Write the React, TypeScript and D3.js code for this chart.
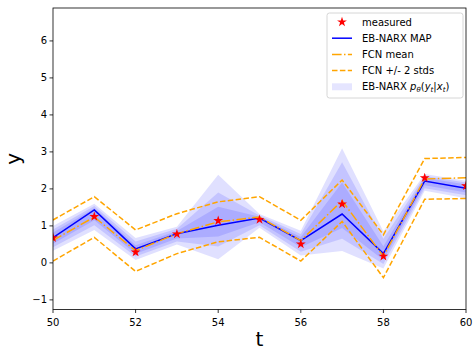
import React from "react";
import * as d3 from "d3";

const timeSteps = [50, 51, 52, 53, 54, 55, 56, 57, 58, 59, 60];
const measured = [0.68, 1.25, 0.29, 0.78, 1.14, 1.17, 0.51, 1.59, 0.18, 2.3, 2.08];
const ebMap = [0.68, 1.43, 0.38, 0.79, 1.02, 1.21, 0.6, 1.32, 0.25, 2.21, 2.02];
const fcnMean = [0.61, 1.24, 0.33, 0.79, 1.11, 1.24, 0.6, 1.68, 0.18, 2.27, 2.3];
const fcnUpper = [1.16, 1.79, 0.89, 1.33, 1.65, 1.79, 1.15, 2.24, 0.76, 2.82, 2.85];
const fcnLower = [0.05, 0.69, -0.23, 0.25, 0.57, 0.69, 0.05, 1.12, -0.4, 1.72, 1.74];
const band3Lo = [0.33, 0.89, 0.08, 0.5, 0.1, 0.95, 0.2, 0.32, -0.15, 1.95, 1.75];
const band3Hi = [1.0, 1.6, 0.67, 0.98, 2.38, 1.32, 0.87, 3.1, 0.85, 2.4, 2.22];
const band2Lo = [0.42, 1.02, 0.17, 0.58, 0.44, 1.02, 0.3, 0.65, -0.03, 2.02, 1.83];
const band2Hi = [0.9, 1.54, 0.58, 0.92, 1.9, 1.28, 0.78, 2.72, 0.65, 2.35, 2.17];
const band1Lo = [0.52, 1.15, 0.25, 0.66, 0.71, 1.1, 0.42, 0.94, 0.08, 2.1, 1.9];
const band1Hi = [0.82, 1.48, 0.48, 0.86, 1.52, 1.25, 0.7, 2.17, 0.45, 2.3, 2.12];
const xTicks = [50, 52, 54, 56, 58, 60];
const yTicks = [-1, 0, 1, 2, 3, 4, 5, 6];
const legendLabels = ["measured", "EB-NARX MAP", "FCN mean", "FCN +/- 2 stds", "EB-NARX "];

const W = 473;
const H = 350;
const L = 53;
const R = 466;
const T = 8;
const B = 309.5;
const FONT = "DejaVu Sans, sans-serif";

export default function App() {
  const x = d3.scaleLinear().domain([50, 60]).range([L, R]);
  const y = d3.scaleLinear().domain([-1.26, 6.89]).range([B, T]);

  const bands = [
    [band3Lo, band3Hi],
    [band2Lo, band2Hi],
    [band1Lo, band1Hi],
  ];
  const area = (lo: number[], hi: number[]) =>
    d3
      .area<number>()
      .x((_, i) => x(timeSteps[i]))
      .y0((_, i) => y(lo[i]))
      .y1((_, i) => y(hi[i]))(timeSteps as any) || "";
  const line = (vals: number[]) =>
    d3
      .line<number>()
      .x((_, i) => x(timeSteps[i]))
      .y((v) => y(v))(vals) || "";
  const star = d3.symbol().type(d3.symbolStar).size(30)() || "";

  const lx = 332;
  const lRow = (i: number) => 22 + i * 16.2;

  return (
    <svg
      width={W}
      height={H}
      style={{ position: "absolute", left: 0, top: 0, background: "#fff" }}
      fontFamily={FONT}
    >
      <defs>
        <clipPath id="plotclip">
          <rect x={L} y={T} width={R - L} height={B - T} />
        </clipPath>
      </defs>
      <g clipPath="url(#plotclip)">
        {bands.map(([lo, hi], k) => (
          <path key={k} d={area(lo, hi)} fill="blue" fillOpacity={0.12} stroke="none" />
        ))}
        <path d={line(ebMap)} fill="none" stroke="blue" strokeWidth={1.5} />
        <path
          d={line(fcnMean)}
          fill="none"
          stroke="orange"
          strokeWidth={1.5}
          strokeDasharray="9.6,2.4,1.5,2.4"
        />
        <path d={line(fcnUpper)} fill="none" stroke="orange" strokeWidth={1.5} strokeDasharray="5.5,2.4" />
        <path d={line(fcnLower)} fill="none" stroke="orange" strokeWidth={1.5} strokeDasharray="5.5,2.4" />
        {measured.map((v, i) => (
          <path key={i} d={star} transform={`translate(${x(timeSteps[i])},${y(v)})`} fill="red" />
        ))}
      </g>
      <rect x={L} y={T} width={R - L} height={B - T} fill="none" stroke="#000" strokeWidth={0.8} />
      {xTicks.map((t) => (
        <g key={t} transform={`translate(${x(t)},${B})`}>
          <line y2={3.5} stroke="#000" strokeWidth={0.8} />
          <text y={16} textAnchor="middle" fontSize={10} fill="#000">
            {t}
          </text>
        </g>
      ))}
      {yTicks.map((t) => (
        <g key={t} transform={`translate(${L},${y(t)})`}>
          <line x2={-3.5} stroke="#000" strokeWidth={0.8} />
          <text x={-6} dy="0.35em" textAnchor="end" fontSize={10} fill="#000">
            {t < 0 ? "\u2212" + Math.abs(t) : t}
          </text>
        </g>
      ))}
      <text x={(L + R) / 2} y={346} textAnchor="middle" fontSize={20} fill="#000">
        t
      </text>
      <text
        transform={`translate(20,${(T + B) / 2}) rotate(-90)`}
        textAnchor="middle"
        fontSize={20}
        fill="#000"
      >
        y
      </text>
      <g>
        <rect x={327} y={13} width={136} height={85} rx={2.5} fill="#fff" fillOpacity={0.8} stroke="#ccc" strokeWidth={0.8} />
        <path d={star} transform={`translate(${lx + 10},${lRow(0)})`} fill="red" />
        <line x1={lx} x2={lx + 20} y1={lRow(1)} y2={lRow(1)} stroke="blue" strokeWidth={1.5} />
        <line x1={lx} x2={lx + 20} y1={lRow(2)} y2={lRow(2)} stroke="orange" strokeWidth={1.5} strokeDasharray="9.6,2.4,1.5,2.4" />
        <line x1={lx} x2={lx + 20} y1={lRow(3)} y2={lRow(3)} stroke="orange" strokeWidth={1.5} strokeDasharray="5.5,2.4" />
        <rect x={lx} y={lRow(4) - 3.5} width={20} height={7} fill="blue" fillOpacity={0.1} />
        {legendLabels.map((s, i) => (
          <text key={i} x={362} y={lRow(i)} dy="0.35em" fontSize={10} fill="#000">
            {s}
            {i === 4 && (
              <>
                <tspan fontStyle="italic">p</tspan>
                <tspan fontStyle="italic" fontSize={7} dy="2">θ</tspan>
                <tspan dy="-2">(</tspan>
                <tspan fontStyle="italic">y</tspan>
                <tspan fontStyle="italic" fontSize={7} dy="2">t</tspan>
                <tspan dy="-2">|</tspan>
                <tspan fontStyle="italic">x</tspan>
                <tspan fontStyle="italic" fontSize={7} dy="2">t</tspan>
                <tspan dy="-2">)</tspan>
              </>
            )}
          </text>
        ))}
      </g>
    </svg>
  );
}
